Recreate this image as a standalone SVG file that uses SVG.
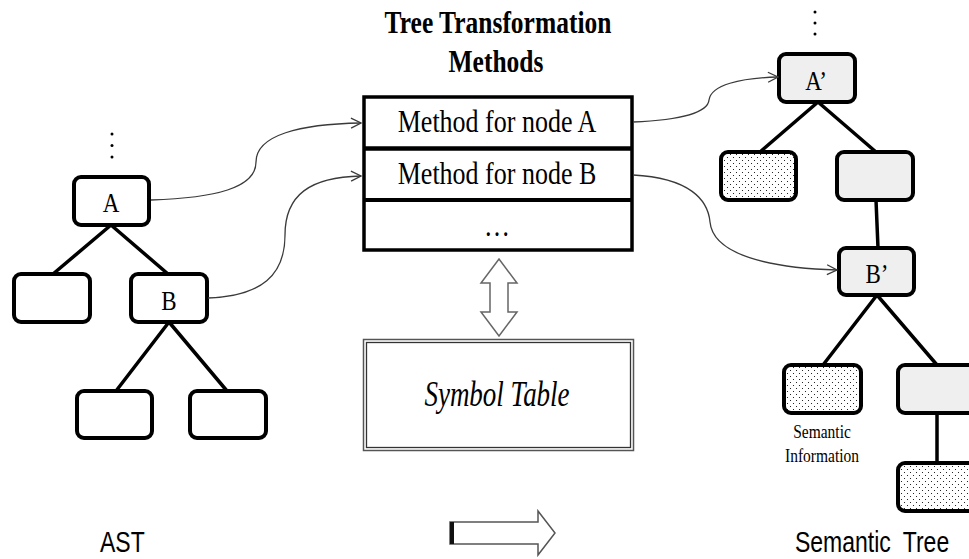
<svg xmlns="http://www.w3.org/2000/svg" width="969" height="559" viewBox="0 0 969 559">
  <style>
    .node { stroke: #000; stroke-width: 4; }
    .plain { fill: #fff; }
    .sem { fill: #efefef; }
    .info { fill: url(#dots); }
    .edge { stroke: #000; stroke-width: 3.5; fill: none; }
    .link { stroke: #3a3a3a; stroke-width: 1.3; fill: none; marker-end: url(#open); }
    .lbl { font-family: "Liberation Serif", "DejaVu Serif", serif; fill: #000; text-anchor: middle; }
    .cap { font-family: "Liberation Sans", "DejaVu Sans", sans-serif; fill: #000; }
    .ell { fill: #000; }
  </style>
  <defs>
    <pattern id="dots" width="6" height="6" patternUnits="userSpaceOnUse">
      <rect width="6" height="6" fill="#fff"/>
      <circle cx="1.5" cy="1.5" r="0.55" fill="#000"/>
      <circle cx="4.5" cy="4.5" r="0.55" fill="#000"/>
    </pattern>
    <marker id="open" viewBox="0 0 12 12" refX="11" refY="6" markerWidth="12" markerHeight="12" markerUnits="userSpaceOnUse" orient="auto">
      <path d="M1,1 L11,6 L1,11" fill="none" stroke="#3a3a3a" stroke-width="1.3"/>
    </marker>
  </defs>

  <!-- AST (left tree) -->
  <g id="ast-ellipsis">
    <circle class="ell" cx="112" cy="134" r="1.5"/>
    <circle class="ell" cx="112" cy="145.5" r="1.5"/>
    <circle class="ell" cx="112" cy="157" r="1.5"/>
  </g>
  <g id="ast-edges">
    <path class="edge" d="M111,225 L53,274 M111,225 L168,274 M169,322 L116,391 M169,322 L227,391"/>
  </g>
  <g id="ast-A">
    <rect class="node plain" x="74" y="177" width="75" height="48" rx="7"/>
    <text class="lbl" font-size="23" transform="translate(111,212) scale(1,1.2)">A</text>
  </g>
  <g id="ast-left">
    <rect class="node plain" x="14" y="274" width="76" height="48" rx="7"/>
  </g>
  <g id="ast-B">
    <rect class="node plain" x="131" y="274" width="76" height="48" rx="7"/>
    <text class="lbl" font-size="23" transform="translate(169,310) scale(1,1.2)">B</text>
  </g>
  <g id="ast-BL">
    <rect class="node plain" x="77" y="391" width="75" height="47" rx="7"/>
  </g>
  <g id="ast-BR">
    <rect class="node plain" x="190" y="391" width="76" height="47" rx="7"/>
  </g>

  <!-- Tree transformation methods -->
  <g id="methods-title">
    <text class="lbl" font-size="25.5" font-weight="bold" transform="translate(498,33) scale(1,1.2)">Tree Transformation</text>
    <text class="lbl" font-size="25.5" font-weight="bold" transform="translate(496,72) scale(1,1.2)">Methods</text>
  </g>
  <g id="methods">
    <rect x="364" y="97" width="268" height="153" fill="#fff" stroke="#000" stroke-width="3.5"/>
    <line x1="364" y1="148.5" x2="632" y2="148.5" stroke="#000" stroke-width="4.5"/>
    <line x1="364" y1="200" x2="632" y2="200" stroke="#000" stroke-width="4"/>
    <text class="lbl" font-size="26" transform="translate(497,132) scale(1,1.2)">Method for node A</text>
    <text class="lbl" font-size="26" transform="translate(497,184) scale(1,1.2)">Method for node B</text>
    <text class="lbl" font-size="26" transform="translate(497,236) scale(1,1.2)">…</text>
  </g>

  <!-- Symbol table -->
  <g id="symtab-link">
    <path d="M499,259 L517,283 L508,283 L508,312 L517,312 L499,336 L481,312 L490,312 L490,283 L481,283 Z" fill="#fff" stroke="#666" stroke-width="1.5" stroke-linejoin="miter"/>
  </g>
  <g id="symbol-table">
    <rect x="363.5" y="339.5" width="270" height="111" fill="#fff" stroke="#555" stroke-width="1.5"/>
    <rect x="366.5" y="342.5" width="264" height="105" fill="none" stroke="#333" stroke-width="1.3"/>
    <text class="lbl" font-size="27" font-style="italic" transform="translate(497,406) scale(1,1.3)">Symbol Table</text>
  </g>

  <!-- Semantic tree (right) -->
  <g id="st-ellipsis">
    <circle class="ell" cx="815" cy="12" r="1.5"/>
    <circle class="ell" cx="815" cy="23" r="1.5"/>
    <circle class="ell" cx="815" cy="34" r="1.5"/>
  </g>
  <g id="st-edges">
    <path class="edge" d="M818,102 L760,152 M818,102 L876,152 M876,200 L878,248 M877,295 L823,365 M877,295 L937,365 M937,413 L937,463"/>
  </g>
  <g id="st-A">
    <rect class="node sem" x="779" y="54" width="76" height="48" rx="7"/>
    <text class="lbl" font-size="23" transform="translate(816,90) scale(1,1.2)">A’</text>
  </g>
  <g id="st-A-info">
    <rect class="node info" x="721" y="152" width="75" height="48" rx="7"/>
  </g>
  <g id="st-A-right">
    <rect class="node sem" x="837" y="152" width="76" height="48" rx="7"/>
  </g>
  <g id="st-B">
    <rect class="node sem" x="839" y="248" width="75" height="47" rx="7"/>
    <text class="lbl" font-size="23" transform="translate(877,283) scale(1,1.2)">B’</text>
  </g>
  <g id="st-B-info">
    <rect class="node info" x="784" y="365" width="77" height="48" rx="7"/>
    <text class="lbl" font-size="15.5" transform="translate(822,438) scale(1,1.15)">Semantic</text>
    <text class="lbl" font-size="15.5" transform="translate(822,462) scale(1,1.15)">Information</text>
  </g>
  <g id="st-B-right">
    <rect class="node sem" x="898" y="365" width="78" height="48" rx="7"/>
  </g>
  <g id="st-B-right-info">
    <rect class="node info" x="898" y="463" width="78" height="48" rx="7"/>
  </g>

  <!-- Connectors -->
  <g id="connectors">
    <path class="link" d="M151,200 C215,198 256,188 256,162 C256,135 300,124 361,123"/>
    <path class="link" d="M208,298 C262,296 285,275 285,235 C285,195 310,177 361,176"/>
    <path class="link" d="M633,122 C682,120 708,112 709,100 C711,85 740,78 778,77"/>
    <path class="link" d="M633,175 C690,178 708,200 710,222 C713,255 770,268 837,270"/>
  </g>

  <!-- Transformation arrow -->
  <g id="transform-arrow">
    <path d="M450,522 L538,522 L538,511 L555,533 L538,555 L538,544 L450,544 Z" fill="#fff" stroke="#555" stroke-width="1.5"/>
    <rect x="450" y="522" width="4" height="22" fill="#111"/>
  </g>

  <!-- Captions -->
  <g id="captions">
    <text class="cap" font-size="23" transform="translate(100,552) scale(1,1.3)">AST</text>
    <text class="cap" font-size="23" word-spacing="6" transform="translate(795,552) scale(1,1.3)">Semantic Tree</text>
  </g>
</svg>
